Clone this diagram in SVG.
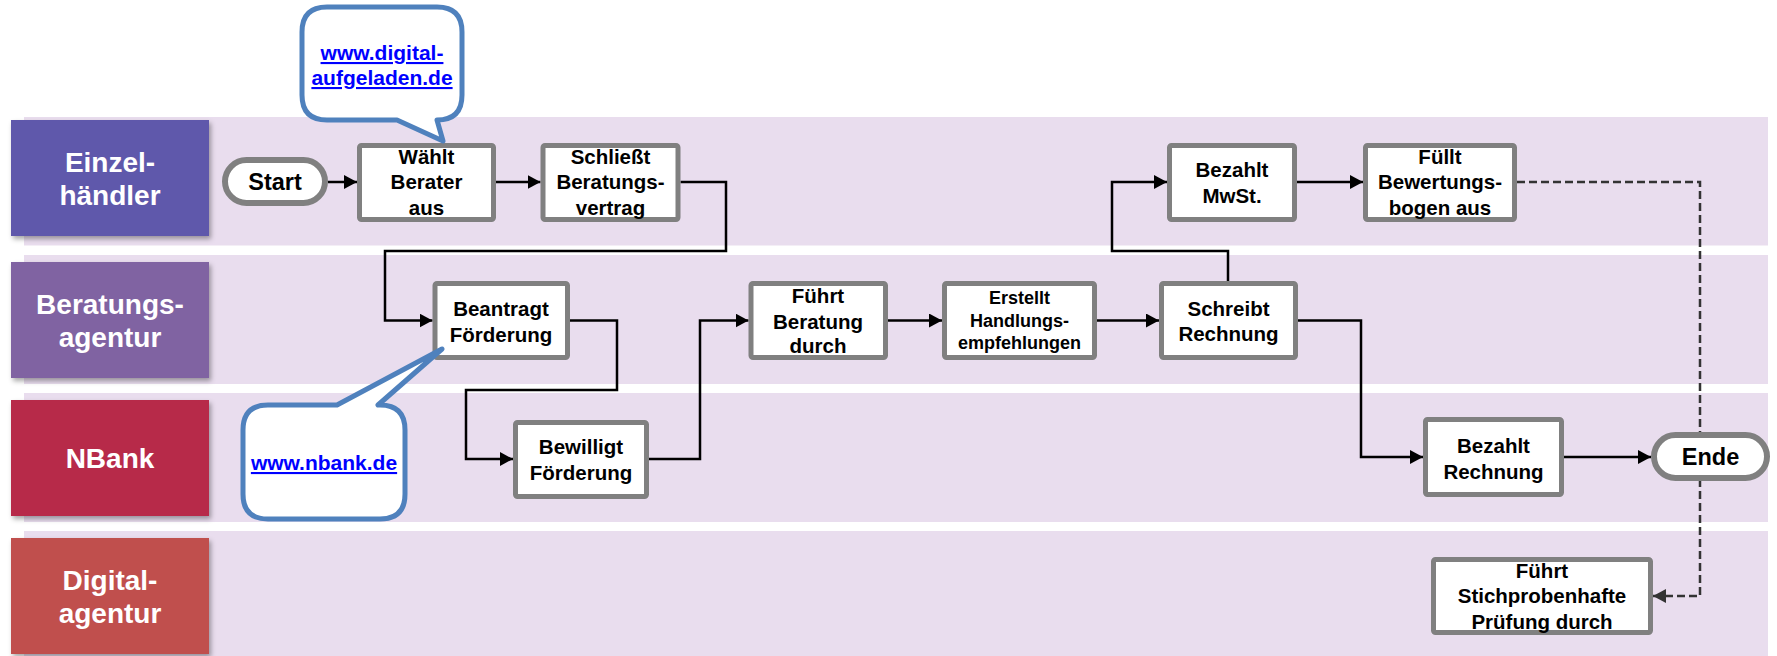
<svg xmlns="http://www.w3.org/2000/svg" width="1777" height="656" viewBox="0 0 1777 656">
<style>
.band{fill:#E9DDEE}
.lbl{font-family:"Liberation Sans",Arial,sans-serif;font-weight:bold;font-size:28px;fill:#FFFFFF;text-anchor:middle}
.box{fill:#FFFFFF;stroke:#808080;stroke-width:5}
.pill{fill:#FFFFFF;stroke:#808080;stroke-width:6}
.t{font-family:"Liberation Sans",Arial,sans-serif;font-weight:bold;font-size:20.5px;fill:#000000;text-anchor:middle}
.ts{font-family:"Liberation Sans",Arial,sans-serif;font-weight:bold;font-size:18px;fill:#000000;text-anchor:middle}
.tp{font-family:"Liberation Sans",Arial,sans-serif;font-weight:bold;font-size:23.5px;fill:#000000;text-anchor:middle}
.link{font-family:"Liberation Sans",Arial,sans-serif;font-weight:bold;font-size:21px;fill:#0000FF;text-anchor:middle;text-decoration:underline}
.call{fill:#FFFFFF;stroke:#4F81BD;stroke-width:5;stroke-linejoin:round}
.con{fill:none;stroke:#000000;stroke-width:2.5;marker-end:url(#arr)}
.dash{fill:none;stroke:#333333;stroke-width:2.5;stroke-dasharray:8 4;marker-end:url(#arrd)}
</style>
<defs>
<marker id="arr" viewBox="0 0 13 14" refX="13" refY="7" markerWidth="13" markerHeight="14" markerUnits="userSpaceOnUse" orient="auto">
<path d="M0,0 L13,7 L0,14 z" fill="#000000"/>
</marker>
<marker id="arrd" viewBox="0 0 13 14" refX="13" refY="7" markerWidth="13" markerHeight="14" markerUnits="userSpaceOnUse" orient="auto">
<path d="M0,0 L13,7 L0,14 z" fill="#333333"/>
</marker>
<filter id="sh" x="-10%" y="-10%" width="130%" height="130%">
<feDropShadow dx="2" dy="3" stdDeviation="2.5" flood-color="#000000" flood-opacity="0.35"/>
</filter>
</defs>

<g id="lanes">
<rect class="band" x="24" y="117" width="1744" height="128.5"/>
<rect class="band" x="24" y="255" width="1744" height="129"/>
<rect class="band" x="24" y="393" width="1744" height="129"/>
<rect class="band" x="24" y="531" width="1744" height="125"/>
</g>

<g id="lane-einzelhaendler">
<rect x="11" y="120" width="198" height="116" fill="#5E58AB" filter="url(#sh)"/>
<text class="lbl" x="110" y="171.5">Einzel-</text>
<text class="lbl" x="110" y="204.5">händler</text>
</g>
<g id="lane-beratungsagentur">
<rect x="11" y="262" width="198" height="116" fill="#8064A2" filter="url(#sh)"/>
<text class="lbl" x="110" y="313.5">Beratungs-</text>
<text class="lbl" x="110" y="346.5">agentur</text>
</g>
<g id="lane-nbank">
<rect x="11" y="400" width="198" height="116" fill="#B72A4A" filter="url(#sh)"/>
<text class="lbl" x="110" y="468">NBank</text>
</g>
<g id="lane-digitalagentur">
<rect x="11" y="538" width="198" height="116" fill="#C0504D" filter="url(#sh)"/>
<text class="lbl" x="110" y="589.5">Digital-</text>
<text class="lbl" x="110" y="622.5">agentur</text>
</g>

<g id="connectors">
<path class="con" d="M328,182 H357"/>
<path class="con" d="M496,182 H540.5"/>
<path class="con" d="M680.5,182 H726 V251 H385 V320.5 H432.5"/>
<path class="con" d="M570,320.5 H617 V390 H466 V459 H513"/>
<path class="con" d="M649,459 H700 V320.5 H748.5"/>
<path class="con" d="M888,320.5 H942"/>
<path class="con" d="M1097,320.5 H1159"/>
<path class="con" d="M1228,281 V251 H1112 V182 H1167"/>
<path class="con" d="M1297,182 H1363"/>
<path class="con" d="M1298,320.5 H1361 V457 H1423"/>
<path class="con" d="M1564,457 H1651"/>
<path class="dash" d="M1517,182 H1700 V596 H1653"/>
</g>

<g id="start">
<rect class="pill" x="225" y="160" width="100" height="43" rx="21.5"/>
<text class="tp" x="275" y="190">Start</text>
</g>
<g id="waehlt">
<rect class="box" x="359.5" y="145.5" width="134" height="74" rx="2"/>
<text class="t" x="426.5" y="163.5">Wählt</text>
<text class="t" x="426.5" y="189">Berater</text>
<text class="t" x="426.5" y="214.5">aus</text>
</g>
<g id="schliesst">
<rect class="box" x="543" y="145.5" width="135" height="74" rx="2"/>
<text class="t" x="610.5" y="163.5">Schließt</text>
<text class="t" x="610.5" y="189">Beratungs-</text>
<text class="t" x="610.5" y="214.5">vertrag</text>
</g>
<g id="beantragt">
<rect class="box" x="435" y="283.5" width="132.5" height="74" rx="2"/>
<text class="t" x="501" y="316">Beantragt</text>
<text class="t" x="501" y="341.5">Förderung</text>
</g>
<g id="bewilligt">
<rect class="box" x="515.5" y="422.5" width="131" height="74" rx="2"/>
<text class="t" x="581" y="454">Bewilligt</text>
<text class="t" x="581" y="479.5">Förderung</text>
</g>
<g id="fuehrt-beratung">
<rect class="box" x="751" y="283.5" width="134.5" height="74" rx="2"/>
<text class="t" x="818" y="303">Führt</text>
<text class="t" x="818" y="328.5">Beratung</text>
<text class="t" x="818" y="353">durch</text>
</g>
<g id="erstellt">
<rect class="box" x="944.5" y="283.5" width="150" height="74" rx="2"/>
<text class="ts" x="1019.5" y="304">Erstellt</text>
<text class="ts" x="1019.5" y="326.5">Handlungs-</text>
<text class="ts" x="1019.5" y="349">empfehlungen</text>
</g>
<g id="schreibt">
<rect class="box" x="1161.5" y="283.5" width="134" height="74" rx="2"/>
<text class="t" x="1228.5" y="315.5">Schreibt</text>
<text class="t" x="1228.5" y="341">Rechnung</text>
</g>
<g id="bezahlt-mwst">
<rect class="box" x="1169.5" y="145.5" width="125" height="74" rx="2"/>
<text class="t" x="1232" y="177">Bezahlt</text>
<text class="t" x="1232" y="202.5">MwSt.</text>
</g>
<g id="fuellt">
<rect class="box" x="1365.5" y="145.5" width="149" height="74" rx="2"/>
<text class="t" x="1440" y="163.5">Füllt</text>
<text class="t" x="1440" y="189">Bewertungs-</text>
<text class="t" x="1440" y="214.5">bogen aus</text>
</g>
<g id="bezahlt-rechnung">
<rect class="box" x="1425.5" y="419.5" width="136" height="75" rx="2"/>
<text class="t" x="1493.5" y="453">Bezahlt</text>
<text class="t" x="1493.5" y="478.5">Rechnung</text>
</g>
<g id="ende">
<rect class="pill" x="1654" y="435" width="113" height="43" rx="21.5"/>
<text class="tp" x="1710.5" y="465">Ende</text>
</g>
<g id="stichprobe">
<rect class="box" x="1433.5" y="559.5" width="217" height="73" rx="2"/>
<text class="t" x="1542" y="577.5">Führt</text>
<text class="t" x="1542" y="603">Stichprobenhafte</text>
<text class="t" x="1542" y="628.5">Prüfung durch</text>
</g>

<g id="callout-digital">
<path class="call" d="M327,7 H437 Q462,7 462,32 V95 Q462,120 437,120 L443,141 L397,120 H327 Q302,120 302,95 V32 Q302,7 327,7 Z"/>
<text class="link" x="382" y="60">www.digital-</text>
<text class="link" x="382" y="85">aufgeladen.de</text>
</g>
<g id="callout-nbank">
<path class="call" d="M268,405 H337 L442,349 L378,405 H380 Q405,405 405,430 V494 Q405,519 380,519 H268 Q243,519 243,494 V430 Q243,405 268,405 Z"/>
<text class="link" x="324" y="470">www.nbank.de</text>
</g>
</svg>
